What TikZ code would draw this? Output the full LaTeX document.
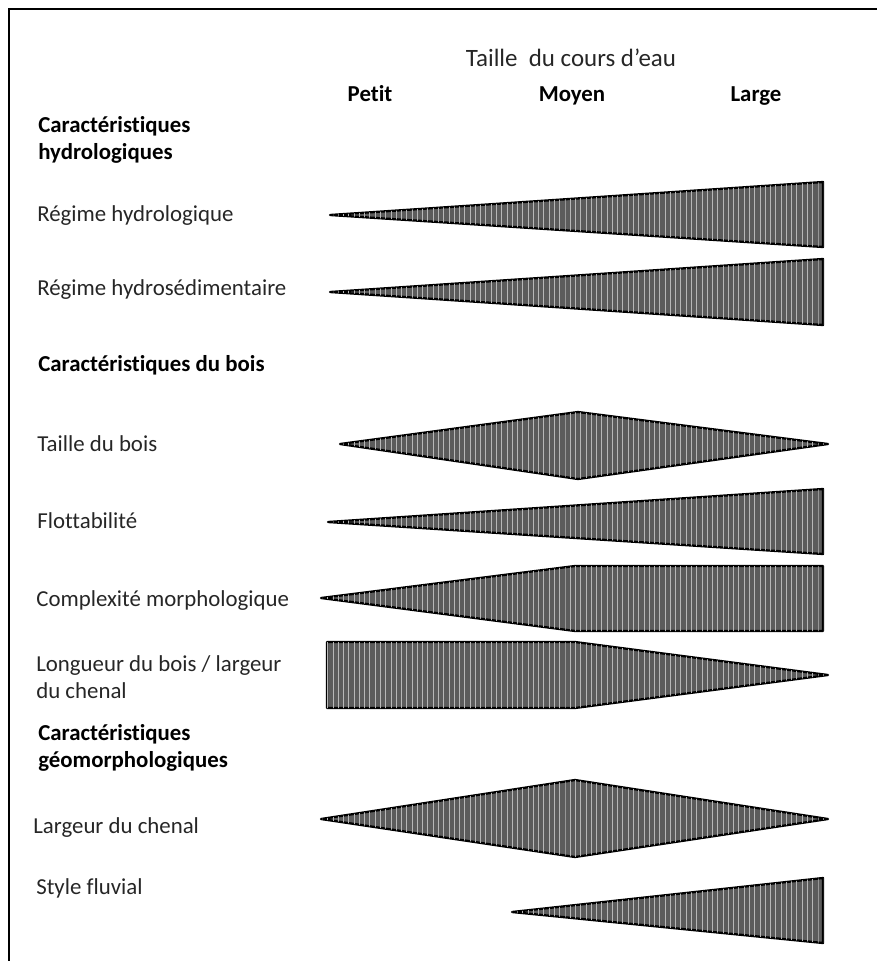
\documentclass[tikz,border=0pt]{standalone}
\usepackage{fontspec}
\setmainfont{Carlito}[Ligatures=NoCommon]
\usepackage{tikz}
\usetikzlibrary{patterns}

\tikzset{
  lbl/.style={anchor=west,inner sep=0pt,font=\fontsize{13}{15.5}\selectfont,text=black!85,align=left},
  head/.style={lbl,font=\fontsize{13}{15.5}\selectfont\bfseries,text=black},
  col/.style={anchor=base,inner sep=0pt,font=\fontsize{13}{15.5}\selectfont\bfseries},
  bar/.style={draw=black,line width=1.3pt,line join=round,fill=black!64,
    postaction={pattern=vertical lines,pattern color=black!28}}
}

\begin{document}
\begin{tikzpicture}[x=0.02cm,y=-0.02cm]
\useasboundingbox (0,0) rectangle (877,961);
% frame
\draw[line width=1.2pt] (9,961)--(9,9)--(877,9);

% column heads
\node[inner sep=0pt,font=\fontsize{14.2}{17}\selectfont,text=black!85] (taille) at (571,58) {Taille\ \ du cours d'eau};
\node[col] (petit) at (370,101) {Petit};
\node[col] (moyen) at (572,101) {Moyen};
\node[col] (large) at (756,101) {Large};

% row labels
\node[head] (hydro) at (38,140) {Caractéristiques\\hydrologiques};
\node[lbl] (reghyd) at (37,216) {Régime hydrologique};
\node[lbl] (regsed) at (37,290) {Régime hydrosédimentaire};
\node[head] (bois) at (38,365) {Caractéristiques du bois};
\node[lbl] (tbois) at (37,444) {Taille du bois};
\node[lbl] (flot) at (37,521) {Flottabilité};
\node[lbl] (cmorph) at (36,601) {Complexité morphologique};
\node[lbl] (longb) at (36,677) {Longueur du bois / largeur\\du chenal};
\node[head] (geo) at (38,748) {Caractéristiques\\géomorphologiques};
\node[lbl] (lchen) at (33,828) {Largeur du chenal};
\node[lbl] (style) at (36,888) {Style fluvial};

% bars
\draw[bar] (330,215)--(823,182)--(823,247)--cycle;
\draw[bar] (330,292)--(823,259)--(823,325)--cycle;
\draw[bar] (340,444)--(578,412)--(828,444)--(578,479)--cycle;
\draw[bar] (328,522)--(823,489)--(823,554)--cycle;
\draw[bar] (321,598)--(575,566)--(823,566)--(823,631)--(575,631)--cycle;
\draw[bar] (327,642)--(575,642)--(828,675)--(575,708)--(327,708)--cycle;
\draw[bar] (321,819)--(575,780)--(828,819)--(575,857)--cycle;
\draw[bar] (512,912)--(823,878)--(823,943)--cycle;
\end{tikzpicture}
\end{document}
